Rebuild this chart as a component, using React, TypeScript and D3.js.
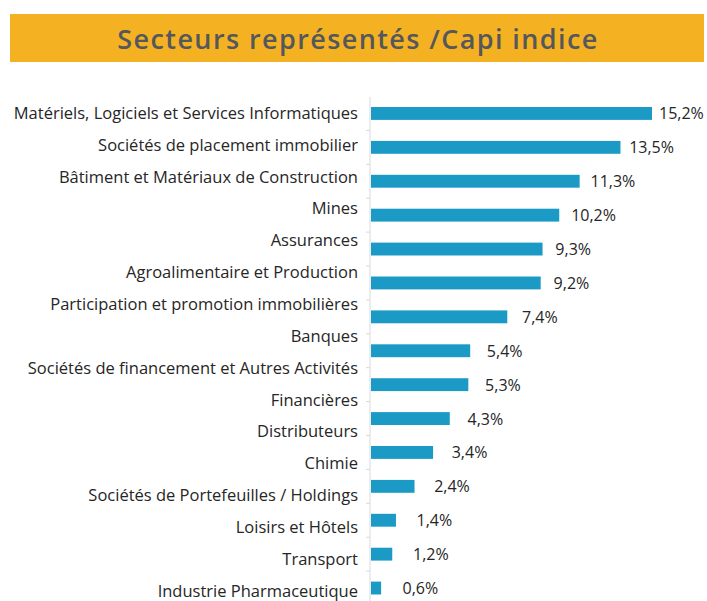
import React, { useEffect, useRef } from 'react'
import * as d3 from 'd3'

const TITLE = 'Secteurs représentés /Capi indice'

const categories = [
  'Matériels, Logiciels et Services Informatiques',
  'Sociétés de placement immobilier',
  'Bâtiment et Matériaux de Construction',
  'Mines',
  'Assurances',
  'Agroalimentaire et Production',
  'Participation et promotion immobilières',
  'Banques',
  'Sociétés de financement et Autres Activités',
  'Financières',
  'Distributeurs',
  'Chimie',
  'Sociétés de Portefeuilles / Holdings',
  'Loisirs et Hôtels',
  'Transport',
  'Industrie Pharmaceutique',
]

// the source shows 15 bars against 16 labels
const values = [15.2, 13.5, 11.3, 10.2, 9.3, 9.2, 7.4, 5.4, 5.3, 4.3, 3.4, 2.4, 1.4, 1.2, 0.6]

const fmt = (v: number) => d3.format('.1f')(v).replace('.', ',') + '%'

// font size that makes a text span the wanted width
const fitFont = (sel: any, family: string, weight: number, base: number, want: number) => {
  sel.style('font-family', family).style('font-weight', weight).style('font-size', base + 'px')
  const w = (sel.node() as SVGTextElement).getComputedTextLength()
  return w > 0 ? (base * want) / w : base
}

export default function App() {
  const ref = useRef<SVGSVGElement>(null)

  useEffect(() => {
    const width = 707
    const height = 601
    const axisX = 370
    const labelFont = '"Open Sans", sans-serif'

    const svg = d3.select(ref.current)
    svg.selectAll('*').remove()

    // title banner
    svg
      .append('rect')
      .attr('x', 10)
      .attr('y', 14)
      .attr('width', 694)
      .attr('height', 48)
      .attr('fill', '#f4b223')
    const title = svg
      .append('text')
      .attr('x', 358)
      .attr('y', 38)
      .attr('text-anchor', 'middle')
      .attr('dominant-baseline', 'central')
      .attr('fill', '#54575b')
      .style('font-family', labelFont)
      .style('font-weight', 600)
      .style('font-size', '27px')
      .text(TITLE)
    // widen with letter spacing rather than a bigger font
    const tw = (title.node() as SVGTextElement).getComputedTextLength()
    title.style('letter-spacing', Math.max(0, (480 - tw) / (TITLE.length - 1)) + 'px')

    const x = d3.scaleLinear().domain([0, 15.2]).range([axisX, 652])
    // data labels drift a little against the bars in the source
    const labelX = d3.scaleLinear().domain([0, 15.2]).range([392, 659])

    const yBar = d3
      .scaleBand<number>()
      .domain(d3.range(values.length))
      .range([96.5, 605])
      .paddingInner(0.62)
      .paddingOuter(0.31)

    const yLabel = d3
      .scaleBand<string>()
      .domain(categories)
      .range([96.5, 606])

    // axis line + ticks
    svg
      .append('line')
      .attr('x1', axisX)
      .attr('x2', axisX)
      .attr('y1', 97)
      .attr('y2', height)
      .attr('stroke', '#d9d9d9')
    svg
      .append('g')
      .selectAll('line')
      .data(d3.range(1, values.length))
      .join('line')
      .attr('x1', axisX - 4)
      .attr('x2', axisX)
      .attr('y1', i => (yBar(i) as number) - (yBar.step() - yBar.bandwidth()) / 2)
      .attr('y2', i => (yBar(i) as number) - (yBar.step() - yBar.bandwidth()) / 2)
      .attr('stroke', '#d9d9d9')

    svg
      .append('g')
      .selectAll('rect')
      .data(values)
      .join('rect')
      .attr('x', x(0) + 1)
      .attr('y', (d, i) => yBar(i) as number)
      .attr('width', d => x(d) - x(0) - 1)
      .attr('height', yBar.bandwidth())
      .attr('fill', '#1b9ac5')

    const valTexts = svg
      .append('g')
      .selectAll('text')
      .data(values)
      .join('text')
      .attr('x', d => labelX(d))
      .attr('y', (d, i) => (yBar(i) as number) + yBar.bandwidth() / 2)
      .attr('dominant-baseline', 'central')
      .attr('fill', '#262626')
      .text(d => fmt(d))
    const valSize = fitFont(d3.select(valTexts.nodes()[0]), labelFont, 400, 15, 46)
    valTexts
      .style('font-family', labelFont)
      .style('font-size', Math.min(valSize, 16) + 'px')

    const catTexts = svg
      .append('g')
      .selectAll('text')
      .data(categories)
      .join('text')
      .attr('x', 358)
      .attr('y', d => (yLabel(d) as number) + yLabel.bandwidth() / 2)
      .attr('text-anchor', 'end')
      .attr('dominant-baseline', 'central')
      .attr('fill', '#262626')
      .text(d => d)
    const catSize = fitFont(d3.select(catTexts.nodes()[0]), labelFont, 400, 15, 346)
    catTexts
      .style('font-family', labelFont)
      .style('font-size', Math.min(catSize, 16.5) + 'px')

    svg.attr('width', width).attr('height', height)
  }, [])

  return (
    <svg
      ref={ref}
      width={707}
      height={601}
      style={{ position: 'absolute', left: 0, top: 0, background: '#fff' }}
    />
  )
}
